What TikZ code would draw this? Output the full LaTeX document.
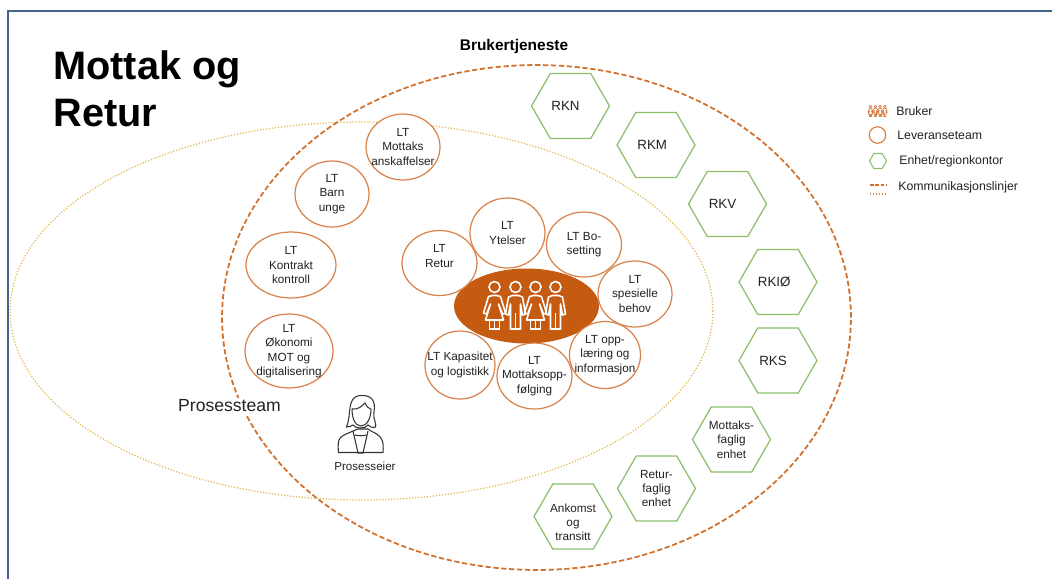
\documentclass[tikz,border=0pt]{standalone}
\usepackage{fontspec}
\setmainfont{Liberation Sans}
\usetikzlibrary{shapes.geometric,shapes.symbols}
\definecolor{ltorange}{HTML}{C55A11}
\definecolor{ltline}{HTML}{D9824A}
\definecolor{dashorange}{HTML}{D2702E}
\definecolor{enhetgreen}{HTML}{8CBF6C}
\definecolor{prosessgold}{HTML}{E0B94F}
\definecolor{framecol}{HTML}{44648F}
\definecolor{textcol}{HTML}{222222}
\tikzstyle{lt}=[ellipse,draw=ltline,fill=white,line width=0.7pt,inner sep=-0.2cm,align=center,text=textcol,font=\fontsize{6.7}{8.2}\selectfont]
\tikzstyle{enhet}=[signal,signal to=west and east,signal pointer angle=120,draw=enhetgreen,fill=white,line width=0.7pt,inner xsep=-0.5cm,inner ysep=0pt,minimum width=1.56cm,minimum height=1.3cm,align=center,text=textcol,font=\fontsize{6.7}{8.2}\selectfont]
\tikzstyle{rk}=[enhet,font=\fontsize{7.6}{9.6}\selectfont]
\tikzstyle{legendtext}=[anchor=west,inner sep=0pt,text=textcol,font=\fontsize{7}{8.6}\selectfont]
\tikzset{
  woman/.pic={
    \draw (0,0) circle (5.5);
    \draw[line join=round] (-2,8.5) -- (-6,9.5) -- (-11,26) -- (-8,27) -- (-4,17) -- (-9,33) -- (9,33) -- (4,17) -- (8,27) -- (11,26) -- (6,9.5) -- (2,8.5) -- cycle;
    \draw (-5,33) -- (-5,42) -- (5,42) -- (5,33) (0,33) -- (0,42);
  },
  man/.pic={
    \draw (0,0) circle (5.5);
    \draw[line join=round] (-3,8.5) -- (-7,10) -- (-10,27) -- (-7,28) -- (-5,17) -- (-5,42) -- (5,42) -- (5,17) -- (7,28) -- (10,27) -- (7,10) -- (3,8.5) -- cycle;
    \draw (0,26) -- (0,42);
  },
  brukere/.pic={
    \pic[transform shape] at (-32,-19) {woman};
    \pic[transform shape] at (-11,-19) {man};
    \pic[transform shape] at (9,-19) {woman};
    \pic[transform shape] at (29,-19) {man};
  }
}
\begin{document}
\begin{tikzpicture}[x=0.02cm,y=-0.02cm]
\useasboundingbox (0,0) rectangle (1052,579);
\draw[framecol,line width=0.8pt] (1052,11) -- (8,11) -- (8,579);
% the two big ovals
\node[ellipse,draw=prosessgold,densely dotted,line width=0.7pt,minimum width=14.06cm,minimum height=7.56cm] (prosess) at (361.5,311) {};
\node[ellipse,draw=dashorange,dash pattern=on 3pt off 1.5pt,line width=1pt,minimum width=12.58cm,minimum height=10.1cm] (bruker) at (536.5,317.5) {};
% titles
\node[anchor=north west,inner sep=0pt,align=left,font=\bfseries\fontsize{22.6}{27}\selectfont] (title) at (53,50) {Mottak og\\Retur};
\node[inner sep=0pt,font=\bfseries\fontsize{8.8}{10}\selectfont] (brukertitle) at (514,46) {Brukertjeneste};
\node[fill=white,inner sep=1pt,text=textcol,font=\fontsize{10}{12}\selectfont] (prosessteam) at (229.5,406) {Prosessteam};
% left group
\node[lt,minimum width=1.48cm,minimum height=1.32cm] (anskaff) at (403,147) {\rule{0pt}{0.04cm}LT\\Mottaks\\anskaffelser};
\node[lt,minimum width=1.48cm,minimum height=1.32cm] (barn) at (332,194) {LT\\Barn\\unge};
\node[lt,minimum width=1.8cm,minimum height=1.32cm] (kontrakt) at (291,265) {LT\\Kontrakt\\kontroll};
\node[lt,minimum width=1.76cm,minimum height=1.48cm] (okonomi) at (289,351) {LT\\Økonomi\\MOT og\\digitalisering};
% centre
\node[ellipse,fill=ltorange,minimum width=2.9cm,minimum height=1.5cm,inner sep=0pt] (brukere) at (526.5,306) {};
\pic[white,line width=0.9pt] at (brukere.center) {brukere};
\node[lt,minimum width=1.5cm,minimum height=1.3cm] (retur) at (439.5,263) {LT\\Retur\\\ };
\node[lt,minimum width=1.5cm,minimum height=1.4cm] (ytelser) at (507.5,233) {LT\\Ytelser};
\node[lt,minimum width=1.5cm,minimum height=1.3cm] (bosetting) at (584,244.5) {LT Bo-\\setting};
\node[lt,minimum width=1.48cm,minimum height=1.32cm] (spesielle) at (635,294) {LT\\spesielle\\behov};
\node[lt,minimum width=1.42cm,minimum height=1.34cm] (opplaering) at (605,355) {LT opp-\\læring og\\informasjon};
\node[lt,minimum width=1.4cm,minimum height=1.36cm] (kapasitet) at (460,365) {LT Kapasitet\\og logistikk};
\node[lt,minimum width=1.5cm,minimum height=1.32cm] (oppfolging) at (534.5,376) {LT\\Mottaksopp-\\følging};
% offices
\node[rk] (rkn) at (570.5,106) {RKN\hspace{0.2cm}};
\node[rk] (rkm) at (656,145) {RKM\hspace{0.15cm}};
\node[rk] (rkv) at (727.5,204) {RKV\hspace{0.2cm}};
\node[rk] (rkio) at (778,282) {RKIØ\hspace{0.15cm}};
\node[rk] (rks) at (778,360.5) {RKS\hspace{0.2cm}};
\node[enhet] (mottaksenhet) at (731.5,439.5) {Mottaks-\\faglig\\enhet};
\node[enhet] (returenhet) at (656.5,488.5) {Retur-\\faglig\\enhet};
\node[enhet] (ankomst) at (573,516.5) {\rule{0pt}{0.4cm}Ankomst\\og\\transitt};
% process owner
\draw[black!80,line width=0.6pt,line join=round,fill=white] (338.5,452.5) .. controls (337,436) and (340,437) .. (353,431) -- (358,429) -- (368,429) -- (371,431) .. controls (382,436) and (384,440) .. (383,452.5) -- cycle;
\draw[black!80,line width=0.6pt] (353,431) -- (358,453) -- (363,453) -- (368,431) (355,435) .. controls (359,436) and (363,436) .. (366,435);
\draw[black!80,line width=0.6pt,fill=white] (346.5,427) .. controls (352,414) and (346,396) .. (361,395.5) .. controls (371,395) and (376,400) .. (374,412) .. controls (373,420) and (377,424) .. (375.5,427) .. controls (372,428) and (370,427) .. (368,425) .. controls (366,429) and (355,429) .. (353,425) .. controls (352,426) and (349,427) .. (346.5,427) -- cycle;
\draw[black!80,line width=0.6pt] (352,409) .. controls (358,410) and (362,406) .. (365,403) .. controls (367,407) and (369,409) .. (371,409) (352,409) .. controls (352,418) and (355,426) .. (361,426) .. controls (367,426) and (371,418) .. (371,409);
\node[inner sep=0pt,text=textcol,font=\fontsize{6.6}{8}\selectfont] (eier) at (365,466) {Prosesseier};
% legend
\pic[ltline,line width=0.4pt,scale=0.235,transform shape] at (878,111) {brukere};
\node[legendtext] (lbruker) at (896,111) {Bruker};
\node[circle,draw=ltline,line width=0.7pt,minimum size=0.33cm,inner sep=0pt] (lcirc) at (877.5,135) {};
\node[legendtext] (lteam) at (897,135) {Leveranseteam};
\node[signal,signal to=west and east,signal pointer angle=120,draw=enhetgreen,line width=0.6pt,minimum width=0.34cm,minimum height=0.3cm,inner sep=0pt] (lhex) at (878,161) {};
\node[legendtext] (lenhet) at (899,161) {Enhet/regionkontor};
\coordinate (ldash1) at (870,185);
\coordinate (ldash2) at (886,185);
\coordinate (ldot1) at (870,194);
\coordinate (ldot2) at (886,194);
\draw[dashorange,dash pattern=on 2pt off 1pt,line width=0.6pt] (ldash1) -- (ldash2);
\draw[ltline,densely dotted,line width=0.7pt] (ldot1) -- (ldot2);
\node[legendtext] (lkomm) at (898,187) {Kommunikasjonslinjer};
\end{tikzpicture}
\end{document}
